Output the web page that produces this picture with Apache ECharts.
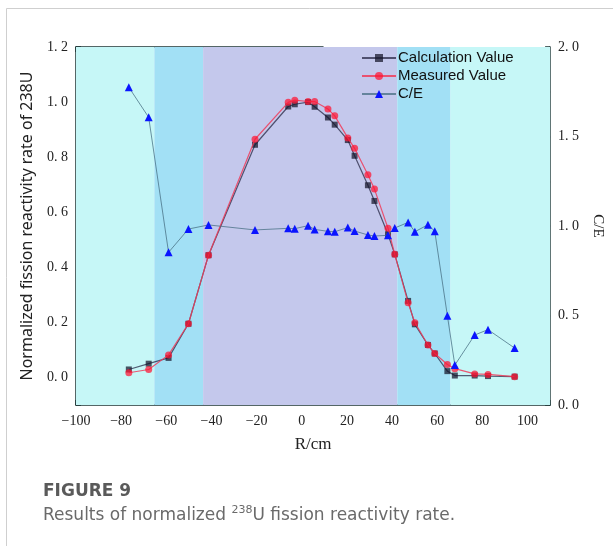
<!DOCTYPE html>
<html>
<head>
<meta charset="utf-8">
<script src="https://cdn.jsdelivr.net/npm/echarts@6/dist/echarts.min.js"></script>
<style>html,body{margin:0;padding:0;background:#fff}#c{width:613px;height:546px}</style>
</head>
<body>
<div id="c"></div>
<script>
// ---- data ----
const R = [-76.6, -67.8, -59.0, -50.2, -41.3, -20.7, -6.0, -3.1, 2.8, 5.7, 11.6, 14.6, 20.4, 23.4, 29.3, 32.2, 38.2, 41.2, 47.1, 50.1, 55.9, 58.9, 64.5, 67.8, 76.6, 82.5, 94.3];
const calcValues = [0.029, 0.050, 0.071, 0.195, 0.444, 0.845, 0.984, 0.992, 1.000, 0.983, 0.944, 0.918, 0.862, 0.805, 0.698, 0.641, 0.520, 0.447, 0.278, 0.193, 0.118, 0.087, 0.023, 0.007, 0.007, 0.005, 0.003];
const measValues = [0.017, 0.029, 0.082, 0.195, 0.444, 0.865, 0.999, 1.007, 1.002, 1.002, 0.975, 0.950, 0.870, 0.832, 0.736, 0.684, 0.542, 0.447, 0.271, 0.199, 0.118, 0.087, 0.047, 0.032, 0.013, 0.011, 0.003];
const ceValues = [1.775, 1.607, 0.853, 0.983, 1.006, 0.978, 0.987, 0.985, 1.002, 0.981, 0.970, 0.968, 0.991, 0.972, 0.950, 0.944, 0.948, 0.989, 1.020, 0.968, 1.007, 0.971, 0.499, 0.223, 0.391, 0.421, 0.318];
const bandEdges = [-100, -65.3, -43.7, 42.3, 65.9, 110];
const bandColors = ['#c6f7f7', '#a2e0f5', '#c4c8ec', '#a2e0f5', '#c6f7f7'];
const seriesNames = ['Calculation Value', 'Measured Value', 'C/E'];
const xAxisName = 'R/cm';
const yAxisName = 'Normalized fission reactivity rate of 238U';
const y2AxisName = 'C/E';
const captionTitle = 'FIGURE 9';

const chart = echarts.init(document.getElementById('c'), null, {renderer: 'canvas'});
const pairs = (vals) => R.map((r, i) => [r, vals[i]]);
const fmt = (v) => {
  const s = Math.abs(v).toFixed(1).replace('.', '. ');
  return (v < 0 ? '\u2212' : '') + s;
};
const axisColor = '#1c3434';
const serif = 'Liberation Serif';

const bands = [];
for (let i = 0; i < bandColors.length; i++) {
  bands.push([{xAxis: bandEdges[i], itemStyle: {color: bandColors[i], opacity: 1}}, {xAxis: bandEdges[i + 1]}]);
}

chart.setOption({
  animation: false,
  backgroundColor: '#fff',
  title: {
    text: captionTitle,
    left: 38, top: 478,
    textStyle: {fontFamily: 'DejaVu Sans', fontWeight: 'bold', fontSize: 17, color: '#5a5a5a'},
    subtext: '{n|Results of normalized }{s|238}{n|U fission reactivity rate.}',
    itemGap: 5,
    subtextStyle: {
      rich: {
        n: {fontFamily: 'DejaVu Sans', fontSize: 17, color: '#6a6a6a', lineHeight: 21},
        s: {fontFamily: 'DejaVu Sans', fontSize: 11, color: '#6a6a6a', verticalAlign: 'top', lineHeight: 14}
      }
    }
  },
  graphic: [
    {type: 'line', shape: {x1: 6.5, y1: 8.5, x2: 613, y2: 8.5}, style: {stroke: '#cfcfcf', lineWidth: 1}, silent: true},
    {type: 'line', shape: {x1: 6.5, y1: 8.5, x2: 6.5, y2: 546}, style: {stroke: '#cfcfcf', lineWidth: 1}, silent: true}
  ],
  legend: {
    orient: 'vertical',
    left: 356, top: 45,
    itemWidth: 34, itemHeight: 10, itemGap: 2,
    data: seriesNames,
    textStyle: {fontFamily: 'Liberation Sans', fontSize: 15, color: '#111', lineHeight: 16, padding: [0, 0, 0, -3]}
  },
  grid: [
    {left: 76, right: 60, top: 47, bottom: 141, containLabel: false},
    {left: 76, top: 47, width: 247, height: 20, containLabel: false}
  ],
  xAxis: [
    {
      type: 'value', gridIndex: 0, min: -100, max: 110, interval: 20,
      name: xAxisName, nameLocation: 'middle', nameGap: 31,
      nameTextStyle: {fontFamily: serif, fontSize: 17, color: '#222'},
      axisLine: {show: true, onZero: false, lineStyle: {color: axisColor, width: 1.5}},
      axisTick: {show: true, inside: true, length: 5, lineStyle: {color: axisColor, width: 1.5}},
      minorTick: {show: true, splitNumber: 2, length: 3, lineStyle: {color: axisColor, width: 1}},
      splitLine: {show: false},
      axisLabel: {showMaxLabel: false, margin: 9, fontFamily: serif, fontSize: 14, color: '#222', formatter: (v) => (v < 0 ? '\u2212' + Math.abs(v) : String(v))}
    },
    {
      type: 'value', gridIndex: 1, position: 'top', min: -100, max: 9, interval: 20,
      axisLine: {show: true, onZero: false, lineStyle: {color: axisColor, width: 1.5}},
      axisTick: {show: true, inside: true, length: 5, lineStyle: {color: axisColor, width: 1.5}},
      minorTick: {show: true, splitNumber: 2, length: 3, lineStyle: {color: axisColor, width: 1}},
      splitLine: {show: false},
      axisLabel: {show: false}
    }
  ],
  yAxis: [
    {
      type: 'value', gridIndex: 0, min: -0.1, max: 1.2, interval: 0.1,
      name: yAxisName, nameLocation: 'middle', nameGap: 41,
      nameTextStyle: {fontFamily: 'Noto Sans', fontSize: 16, color: '#222'},
      axisLine: {show: true, onZero: false, lineStyle: {color: axisColor, width: 1.5}},
      axisTick: {show: true, inside: true, length: 5, lineStyle: {color: axisColor, width: 1.5}},
      splitLine: {show: false},
      axisLabel: {
        margin: 8, fontFamily: serif, fontSize: 14, color: '#222',
        formatter: (v) => {
          const k = Math.round(v * 10);
          return (k >= 0 && k % 2 === 0) ? fmt(v) : '';
        }
      }
    },
    {
      type: 'value', gridIndex: 0, position: 'right', min: 0, max: 2, interval: 0.5,
      name: y2AxisName, nameLocation: 'middle', nameGap: 38, nameRotate: -90,
      nameTextStyle: {fontFamily: serif, fontSize: 15, color: '#222'},
      axisLine: {show: true, onZero: false, lineStyle: {color: axisColor, width: 1.5}},
      axisTick: {show: true, inside: true, length: 5, lineStyle: {color: axisColor, width: 1.5}},
      minorTick: {show: true, splitNumber: 2, length: 5, lineStyle: {color: axisColor, width: 1.5}},
      splitLine: {show: false},
      axisLabel: {margin: 8, fontFamily: serif, fontSize: 14, color: '#222', formatter: fmt}
    },
    {type: 'value', gridIndex: 1, show: false, min: 0, max: 1}
  ],
  series: [
    {
      name: 'bands', type: 'line', xAxisIndex: 0, yAxisIndex: 0, data: [], z: 0, silent: true,
      markArea: {silent: true, data: bands}
    },
    {
      name: seriesNames[0], type: 'line', xAxisIndex: 0, yAxisIndex: 0, z: 3,
      data: pairs(calcValues),
      symbol: 'rect', symbolSize: 6,
      itemStyle: {color: 'rgba(20,20,40,0.72)'},
      lineStyle: {color: 'rgba(40,40,70,0.75)', width: 1.2}
    },
    {
      name: seriesNames[1], type: 'line', xAxisIndex: 0, yAxisIndex: 0, z: 4,
      data: pairs(measValues),
      symbol: 'circle', symbolSize: 7,
      itemStyle: {color: 'rgba(255,20,50,0.72)'},
      lineStyle: {color: 'rgba(240,60,90,0.85)', width: 1.2}
    },
    {
      name: seriesNames[2], type: 'line', xAxisIndex: 0, yAxisIndex: 1, z: 5,
      data: pairs(ceValues),
      symbol: 'triangle', symbolSize: 8,
      itemStyle: {color: '#0a14ff'},
      lineStyle: {color: 'rgba(70,110,130,0.75)', width: 1}
    }
  ]
});
</script>
</body>
</html>
